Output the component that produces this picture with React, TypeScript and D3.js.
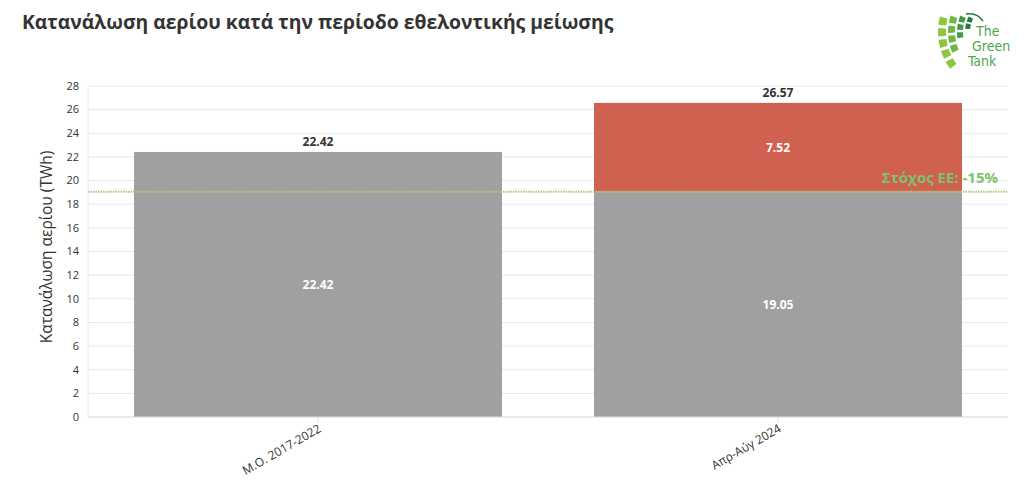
import React from "react";
import * as d3 from "d3";

const categories = ["Μ.Ο. 2017-2022", "Απρ-Αύγ 2024"];
const baseValues = [22.42, 19.05];
const excessValues = [0, 7.52];
const totals = [22.42, 26.57];
const targetValue = 19.05;
const yTicks = [0, 2, 4, 6, 8, 10, 12, 14, 16, 18, 20, 22, 24, 26, 28];

const W = 1024, H = 498;
const M = { left: 88, right: 1008, top: 86, bottom: 417 };
const FONT = "'Open Sans', 'Noto Sans', sans-serif";

// logo rings: [innerR, outerR, startDeg, endDeg, cells, colour]
const logoRings: [number, number, number, number, number, string][] = [
  [54, 62, -74, -128, 5, "#8dc63f"],
  [45, 52, -70, -115, 4, "#6cb843"],
  [37, 43, -66, -100, 3, "#3f9e45"],
  [30, 35, -62, -86, 2, "#1f7d3c"],
];

export default function App() {
  const x = d3.scaleBand<string>().domain(categories).range([M.left, M.right]).paddingInner(0.2).paddingOuter(0.1);
  const y = d3.scaleLinear().domain([0, 28]).range([M.bottom, M.top]);
  const bw = x.bandwidth();

  const arc = d3.arc<any>();
  const rad = Math.PI / 180;
  const logoCells: { d: string; fill: string }[] = [];
  logoRings.forEach(([r0, r1, a0, a1, n, col]) => {
    for (let k = 0; k < n; k++) {
      const s = a0 + ((a1 - a0) * k) / n;
      const e = a0 + ((a1 - a0) * (k + 1)) / n;
      const d = arc({ innerRadius: r0, outerRadius: r1, startAngle: e * rad, endAngle: s * rad, padAngle: 0.04 }) || "";
      logoCells.push({ d, fill: col });
    }
  });

  return (
    <svg width={W} height={H} style={{ position: "absolute", left: 0, top: 0, background: "#fff" }} fontFamily={FONT}>
      <text x={22} y={29} fontSize={19.35} fontWeight={700} fill="#333">Κατανάλωση αερίου κατά την περίοδο εθελοντικής μείωσης</text>
      {/* logo */}
      <g transform="translate(1000,32)">
        {logoCells.map((c, i) => (
          <path key={i} d={c.d} fill={c.fill} />
        ))}
      </g>
      <path d="M966,14 Q977,12 983,21" fill="none" stroke="#1f7d3c" strokeWidth={1.5} />
      <g fontFamily="'DejaVu Sans Condensed', 'Liberation Sans Narrow', sans-serif" fontSize={14} fill="#4aa84a">
        <text x={976} y={36}>The</text>
        <text x={972} y={51}>Green</text>
        <text x={968} y={66}>Tank</text>
      </g>
      {/* grid */}
      {yTicks.map((t) => (
        <g key={t}>
          <line x1={M.left} x2={M.right} y1={y(t)} y2={y(t)} stroke="#e8e8e8" strokeWidth={1} />
          <text x={79} y={y(t)} dy="0.35em" fontSize={11} fill="#333" textAnchor="end">{t}</text>
        </g>
      ))}
      <line x1={M.left} x2={M.left} y1={M.top} y2={M.bottom} stroke="#e8e8e8" />
      <text transform={`translate(52,${247}) rotate(-90)`} textAnchor="middle" fontSize={15.5} fill="#333">Κατανάλωση αερίου (TWh)</text>
      {/* bars */}
      {categories.map((c, i) => {
        const x0 = x(c)!;
        return (
          <g key={c}>
            <rect x={x0} y={y(baseValues[i])} width={bw} height={y(0) - y(baseValues[i])} fill="#a0a0a0" />
            {excessValues[i] > 0 && (
              <rect x={x0} y={y(baseValues[i] + excessValues[i])} width={bw} height={y(baseValues[i]) - y(baseValues[i] + excessValues[i])} fill="#d0604f" />
            )}
            <text x={x0 + bw / 2} y={(y(0) + y(baseValues[i])) / 2} dy="0.35em" textAnchor="middle" fontSize={12} fontWeight={700} fill="#fff">{baseValues[i].toFixed(2)}</text>
            {excessValues[i] > 0 && (
              <text x={x0 + bw / 2} y={(y(baseValues[i]) + y(baseValues[i] + excessValues[i])) / 2} dy="0.35em" textAnchor="middle" fontSize={12} fontWeight={700} fill="#fff">{excessValues[i].toFixed(2)}</text>
            )}
            <text x={x0 + bw / 2} y={y(totals[i]) - 6} textAnchor="middle" fontSize={12} fontWeight={700} fill="#333">{totals[i].toFixed(2)}</text>
            <line x1={x0 + bw / 2} x2={x0 + bw / 2} y1={M.bottom} y2={M.bottom + 6} stroke="#e0e0e0" />
            <text transform={`translate(${x0 + bw / 2 + 4},${M.bottom + 14}) rotate(-30)`} textAnchor="end" fontSize={12} fill="#333">{c}</text>
          </g>
        );
      })}
      <line x1={M.left} x2={M.right} y1={M.bottom} y2={M.bottom} stroke="#e0e0e0" />
      {/* target */}
      <line x1={M.left} x2={M.right} y1={y(targetValue)} y2={y(targetValue)} stroke="#a5cf7f" strokeWidth={2} strokeDasharray="1.5,1" />
      <text x={998} y={y(targetValue) - 9} textAnchor="end" fontSize={15} fontWeight={700} fill="#7cc46c">Στόχος ΕΕ: -15%</text>
    </svg>
  );
}
